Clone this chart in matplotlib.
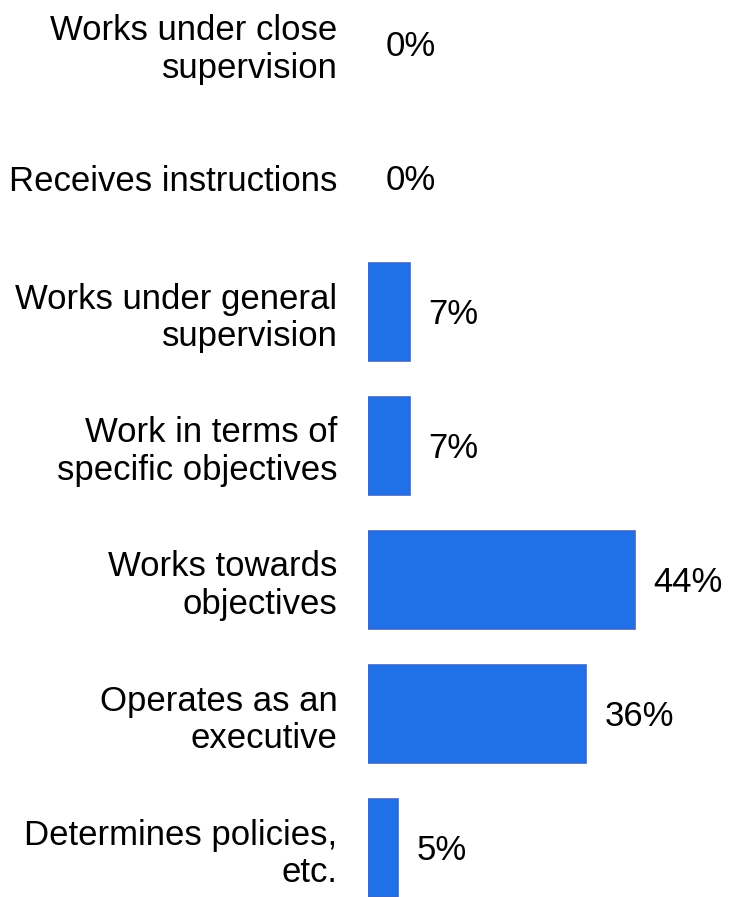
import numpy as np
import matplotlib
matplotlib.use("Agg")
import matplotlib.pyplot as plt

plt.rcParams.update({'font.family': ['Liberation Sans', 'DejaVu Sans']})

# Data
categories = [
    "Works under close\nsupervision",
    "Receives instructions",
    "Works under general\nsupervision",
    "Work in terms of\nspecific objectives",
    "Works towards\nobjectives",
    "Operates as an\nexecutive",
    "Determines policies,\netc.",
]
values = [0, 0, 7, 7, 44, 36, 5]

bar_color = '#2070e8'
edge_color = '#3b68c9'

fig = plt.figure(figsize=(7.29, 8.97), dpi=100)
ax = fig.add_axes([368 / 729, 0, 361 / 729, 1])

y = np.arange(len(categories))
widths = [1.2 if v > 0 else 0 for v in values]
ax.barh(y, values, height=0.73, color=bar_color, edgecolor=edge_color, linewidth=widths)

ax.set_ylim(6 + 49 / 134, -44 / 134)
ax.set_xlim(0, 59.5)

ax.set_yticks(y)
ax.set_yticklabels(categories, fontsize=25, linespacing=1.17, ha='right')
ax.tick_params(axis='y', length=0, pad=22)
ax.set_xticks([])
for s in ax.spines.values():
    s.set_visible(False)

# value labels
for yi, v in zip(y, values):
    ax.annotate(f"{v}%", xy=(v, yi), xytext=(13, -2), textcoords='offset points',
                va='center', ha='left', fontsize=25, color='black')

fig.savefig("out.png", dpi=100)
